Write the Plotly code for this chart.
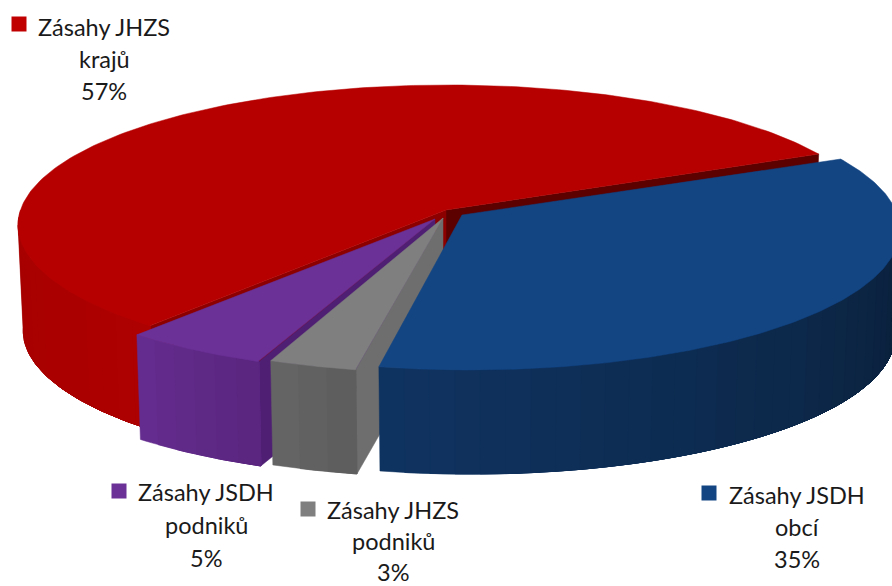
import numpy as np
import plotly.graph_objects as go

# Data
labels = ["Zásahy JHZS krajů", "Zásahy JSDH obcí", "Zásahy JHZS podniků", "Zásahy JSDH podniků"]
values = [57, 35, 3, 5]
legend_lines = [["Zásahy JHZS", "krajů", "57%"],
                ["Zásahy JSDH", "obcí", "35%"],
                ["Zásahy JHZS", "podniků", "3%"],
                ["Zásahy JSDH", "podniků", "5%"]]

top_colors = ["#b60000", "#134583", "#7f7f7f", "#6b3196"]
legend_colors = ["#c00000", "#134583", "#7f7f7f", "#6b3196"]
side_colors = [("#a60000", "#ad0000"), ("#0f3360", "#0a1f38"), ("#646464", "#5e5e5e"), ("#642c8e", "#5a267f")]
# walls at the two cut edges of each slice: first edge clockwise, last edge clockwise
wall_first = ["#8c0000", None, "#6e6e6e", "#4f1f74"]
wall_last = ["#5c0000", None, None, None]

# Pie projection, in page pixels
START_ANGLE = 25.0   # degrees above horizontal at which the blue slice begins
RX, RY, PERSP = 427.5, 138.4, 0.107
DEPTH = 106.0
BOTTOM_SCALE = 0.988
center_x = {0: 448, 1: 470, 2: 447, 3: 435}
tip_x = {0: 446, 1: 462, 2: 443, 3: 435}
tip_y = {0: 210, 1: 215, 2: 218, 3: 219}


def rim(i, deg, bottom=False):
    t = np.radians(deg)
    u, v = np.cos(t), -np.sin(t)
    w = 1 - PERSP * v
    s = BOTTOM_SCALE if bottom else 1.0
    x = center_x[i] + s * RX * u / w
    y = tip_y[i] + s * RY * v / w + (DEPTH if bottom else 0)
    return x, y


def mix(c1, c2, f):
    a = [int(c1[k:k + 2], 16) for k in (1, 3, 5)]
    b = [int(c2[k:k + 2], 16) for k in (1, 3, 5)]
    return "rgb(%d,%d,%d)" % tuple(round(p + (q - p) * f) for p, q in zip(a, b))


def poly(xs, ys, color):
    fig.add_trace(go.Scatter(x=list(xs) + [xs[0]], y=list(ys) + [ys[0]], mode="lines", fill="toself",
                             fillcolor=color, line=dict(color=color, width=0.5), hoverinfo="skip",
                             showlegend=False))


# Slice angle ranges, clockwise from the start angle, blue first; red takes the rest
spans = [v / sum(values) * 360 for v in values]
angles = {}
a = START_ANGLE
for i in (1, 2, 3, 0):
    angles[i] = (a, a - spans[i])
    a -= spans[i]

fig = go.Figure()

for i in (0, 3, 2, 1):
    a0, a1 = angles[i]
    ax, ay = tip_x[i], tip_y[i]

    # cut walls below the edges of the top face
    for col, ang in ((wall_last[i], a1), (wall_first[i], a0)):
        if col:
            rx0, ry0 = rim(i, ang)
            bx0, by0 = rim(i, ang, bottom=True)
            poly([ax, rx0, bx0, ax], [ay, ry0, by0, ay + DEPTH], col)

    # outer side, only the part that faces the viewer, strips overlap so no seams show
    lo, hi = max(a1, -180.0), min(a0, 0.0)
    n = max(int(abs(hi - lo) / 3), 3)
    grid = np.linspace(lo, hi, n + 1)
    for k in range(n):
        f = k / max(n - 1, 1)
        c = mix(side_colors[i][0], side_colors[i][1], f)
        arc = np.linspace(grid[k], hi, 60 if i in (0, 1) else 20)
        upper = [rim(i, d) for d in arc]
        lower = [rim(i, d, bottom=True) for d in arc[::-1]]
        poly([p[0] for p in upper + lower], [p[1] for p in upper + lower], c)

    # top face
    arc = np.linspace(a0, a1, 200)
    pts = [rim(i, d) for d in arc]
    poly([ax] + [p[0] for p in pts], [ay] + [p[1] for p in pts], top_colors[i])

# Labels: legend square plus three centred lines
label_x = [104, 797, 393, 206]
label_y = [27, 495, 510, 492]
line_step = [32, 32, 31, 33]
square_x = [19, 709, 308, 119]
square_y = [24, 493, 509, 491]
for i in range(4):
    fig.add_trace(go.Scatter(x=[square_x[i]], y=[square_y[i]], mode="markers",
                             marker=dict(symbol="square", size=15, color=legend_colors[i]),
                             name=labels[i], hoverinfo="skip", showlegend=False))
    for n, line in enumerate(legend_lines[i]):
        fig.add_annotation(x=label_x[i], y=label_y[i] + n * line_step[i], text=line, showarrow=False,
                           xanchor="center", yanchor="middle",
                           font=dict(family="Lato", size=23.5, color="#1a1a1a"))

fig.update_layout(
    width=892, height=586,
    margin=dict(l=0, r=0, t=0, b=0),
    paper_bgcolor="white", plot_bgcolor="white",
    xaxis=dict(range=[0, 892], visible=False, fixedrange=True),
    yaxis=dict(range=[586, 0], visible=False, fixedrange=True),
    showlegend=False,
)

# page default margin would push the chart 8px off
fig.write_html("out.html", config={"displayModeBar": False},
               post_script="document.body.style.margin='0';document.body.style.overflow='hidden';")
